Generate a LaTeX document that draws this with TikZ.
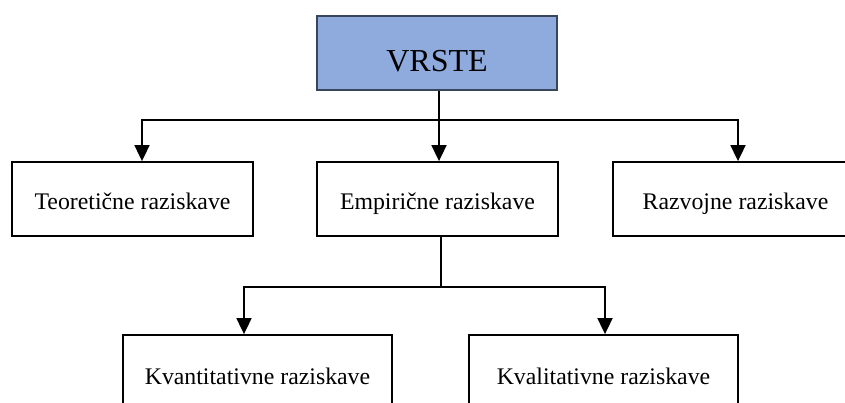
\documentclass[tikz,border=0pt]{standalone}
\usepackage{fontspec}
\setmainfont{Liberation Serif}
\usetikzlibrary{arrows.meta}
\definecolor{vfill}{RGB}{143,170,220}
\definecolor{vborder}{RGB}{55,70,90}
\begin{document}
\begin{tikzpicture}[x=1pt,y=-1pt,
  box/.style={draw=black, line width=1.8pt, fill=white, inner sep=0pt,
    text depth=0pt, font=\fontsize{23.8}{26}\selectfont},
  toprow/.style={box, minimum height=74pt, text height=22pt},
  botrow/.style={box, minimum height=85pt, text height=13pt},
  conn/.style={line width=1.8pt, -{Triangle[length=16pt,width=15pt]}},
  seg/.style={line width=1.8pt}]
\useasboundingbox (0,0) rectangle (845,403);
\clip (0,0) rectangle (845,403);
\fill[white] (0,0) rectangle (845,403);

\node[box, fill=vfill, draw=vborder, minimum width=240pt, minimum height=74pt,
  text height=38pt, font=\fontsize{32}{36}\selectfont] (vrste) at (437,53) {VRSTE};

\node[toprow, minimum width=241pt] (teo)  at (132.5,199) {Teoretične raziskave};
\node[toprow, minimum width=241pt] (emp)  at (437.5,199) {Empirične raziskave};
\node[toprow, minimum width=245pt] (razv) at (735.5,199) {Razvojne raziskave};

\node[botrow, minimum width=269pt] (kvan) at (257.5,377.5) {Kvantitativne raziskave};
\node[botrow, minimum width=269pt] (kval) at (603.5,377.5) {Kvalitativne raziskave};

\coordinate (j)  at (439,120);
\coordinate (b1) at (142,120);
\coordinate (b3) at (738,120);
\draw[conn] (j) -- (b1) -- (b1 |- teo.north);
\draw[conn] (j) -- (b3) -- (b3 |- razv.north);
\draw[conn] (vrste.south -| j) -- (j |- emp.north);

\coordinate (c2) at (441,287);
\coordinate (k1) at (244,287);
\coordinate (k2) at (605,287);
\draw[seg] (emp.south -| c2) -- (c2);
\draw[conn] (c2) -- (k1) -- (k1 |- kvan.north);
\draw[conn] (c2) -- (k2) -- (k2 |- kval.north);
\end{tikzpicture}
\end{document}
